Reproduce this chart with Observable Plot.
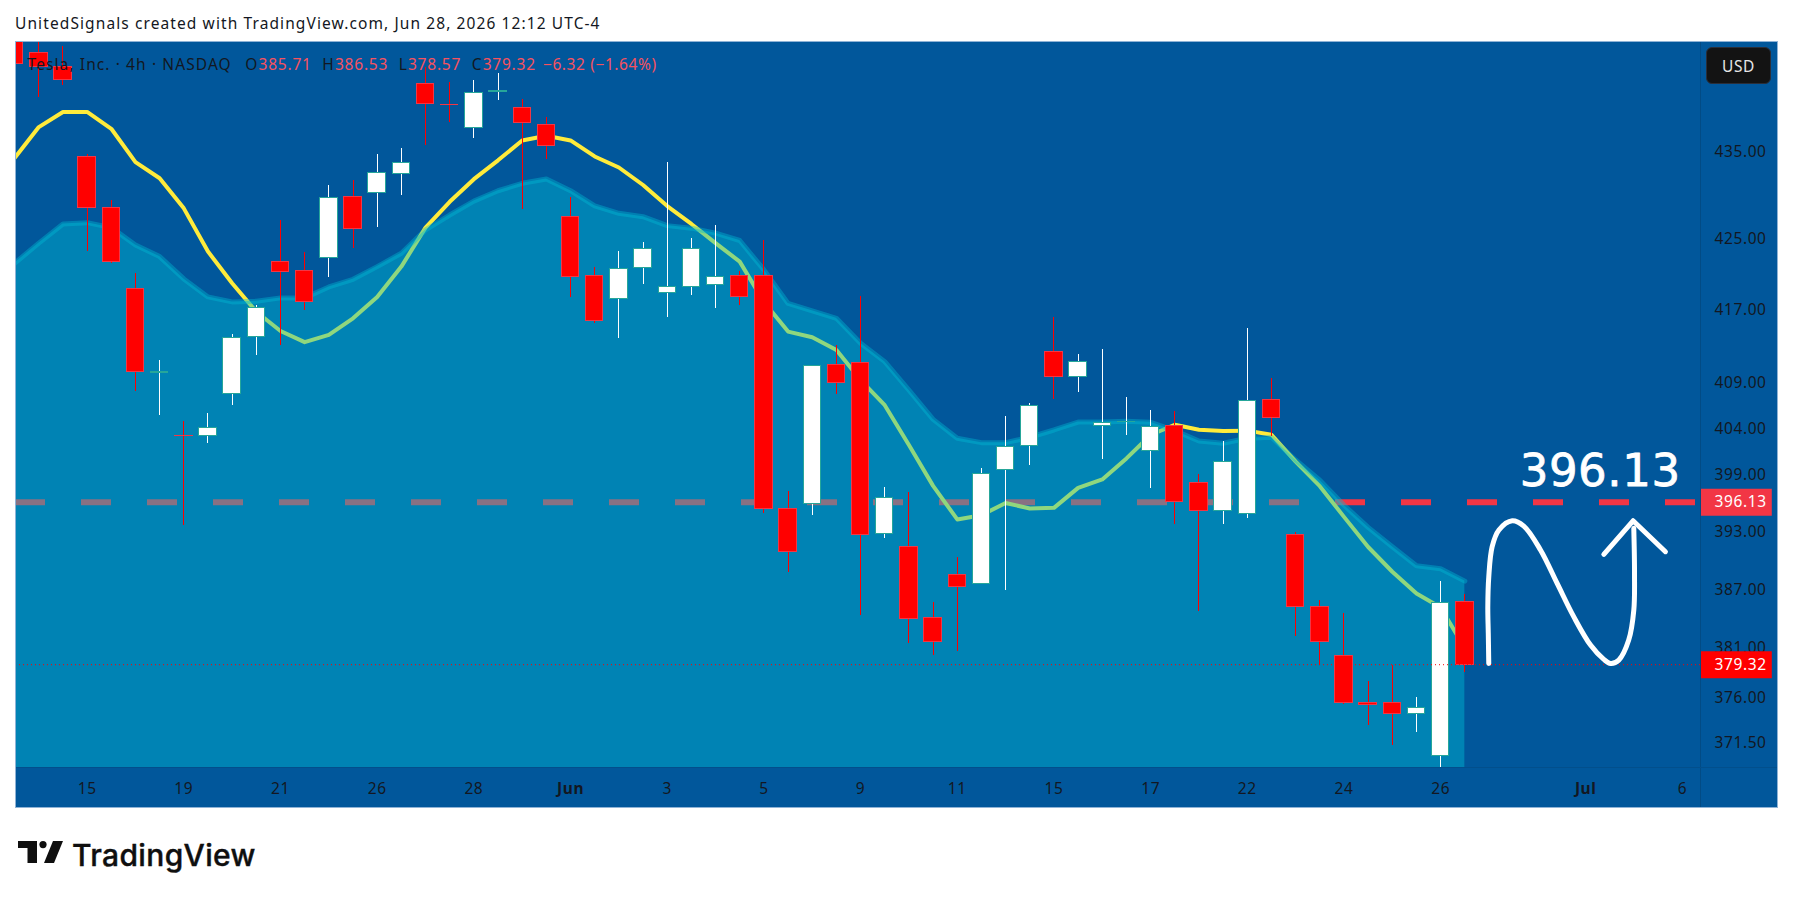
<!DOCTYPE html>
<html><head><meta charset="utf-8">
<script src="https://cdn.jsdelivr.net/npm/d3@7"></script>
<script src="https://cdn.jsdelivr.net/npm/@observablehq/plot@0.6"></script>
<style>
html,body{margin:0;padding:0;background:#fff;width:1793px;height:899px;overflow:hidden;font-family:"Noto Sans",sans-serif}
#title{height:41px;line-height:46px;padding-left:15px;font-size:15.5px;letter-spacing:1.1px;color:#131722;white-space:nowrap}
#wrap{position:relative;margin-left:15px;width:1763px;height:767px}
#wrap svg.plot{display:block}
#wrap .edge{position:absolute;pointer-events:none}
#legend{position:absolute;left:12.5px;top:13px;line-height:20px;font-size:15.5px;letter-spacing:1.1px;color:#131722;white-space:pre}
#legend b{font-weight:normal;color:#f7525f;letter-spacing:.8px}
#legend span{margin-left:10.5px}
#legend span:first-child{margin-left:13.5px}
#legend span:last-child{margin-left:7px}
#legend span:last-child b{letter-spacing:.6px}
#usd{position:absolute;left:1691px;top:6px;width:65px;height:37px;border-radius:6px;background:#131313;color:#e6e6e6;font-size:15.5px;letter-spacing:.6px;line-height:37px;text-align:center;border:1px solid #2a2e39;box-sizing:border-box}
#footer{position:relative;height:91px}
#logoText{position:absolute;left:72px;top:27px;font-family:Inter,sans-serif;font-weight:500;font-size:30px;line-height:40px;color:#0f0f0f;letter-spacing:.35px;-webkit-text-stroke:.4px #0f0f0f}
#logoIcon{position:absolute;left:18px;top:33px}
</style></head><body>
<div id="title">UnitedSignals created with TradingView.com, Jun 28, 2026 12:12 UTC-4</div>
<div id="wrap"></div>
<div id="footer">
<svg id="logoIcon" width="46" height="24" viewBox="0 0 46 24"><path fill="#0f0f0f" d="M0 0H19V22H9.5V7H0Z"/><circle cx="25" cy="3.6" r="3.6" fill="#0f0f0f"/><path fill="#0f0f0f" d="M45 0H35L26 22H36Z"/></svg>
<div id="logoText">TradingView</div>
</div>
<script>
const opens  = [449.4,446.62,444.90,434.38,428.47,419.30,410.08,403.25,403.21,407.70,413.98,422.36,421.41,422.81,429.79,430.19,432.40,442.91,440.50,437.75,442.04,440.07,438.10,427.45,420.77,418.28,421.68,418.85,419.53,419.75,420.77,420.77,395.47,396.00,410.89,411.11,392.76,391.40,384.03,388.47,387.53,399.53,402.10,412.33,409.57,404.28,404.69,401.57,404.25,398.13,395.26,394.85,407.15,392.65,385.25,380.16,375.49,375.49,374.40,370.14,385.71];
const highs  = [449.9,449.4,447.40,434.72,429.41,421.11,411.37,404.82,405.67,414.31,417.54,427.03,423.49,431.15,431.62,434.64,435.34,444.86,443.15,443.31,444.14,441.12,439.03,429.68,421.79,423.52,424.54,433.75,424.99,426.47,421.29,424.77,397.31,410.85,413.02,418.54,397.73,397.20,385.69,390.35,399.67,405.35,406.75,416.14,412.03,412.58,407.40,405.99,405.89,399.12,402.56,414.89,409.49,392.99,385.89,384.54,377.65,379.28,376.03,387.88,386.53];
const lows   = [445.3,441.31,442.75,423.56,422.20,407.99,405.46,393.73,402.35,406.53,411.92,413.02,416.99,420.61,423.94,426.27,429.91,435.73,438.45,436.50,441.04,428.36,434.14,418.39,415.52,413.79,419.90,416.11,418.66,417.21,417.54,394.95,388.74,394.77,407.73,384.29,392.27,381.45,380.23,380.70,387.53,386.86,399.99,407.18,407.95,400.63,403.21,397.63,393.83,384.77,393.83,394.46,403.13,382.16,379.25,375.32,373.17,371.26,372.55,369.00,378.57];
const closes = [445.3,444.90,443.39,428.47,422.36,410.12,410.12,403.19,404.10,413.94,417.24,421.29,417.90,429.68,426.09,432.52,433.68,440.54,440.42,441.84,442.10,438.33,435.61,420.73,415.81,421.57,423.83,419.53,423.90,420.73,418.46,395.47,390.94,410.85,408.91,392.71,396.63,383.99,381.65,387.28,399.10,402.06,406.50,409.57,411.29,404.63,404.73,404.21,396.20,395.16,400.45,406.99,405.11,385.25,381.59,375.45,375.25,374.40,374.96,385.66,379.32];
const maFast = [434.26,437.87,439.64,439.64,437.67,433.79,431.93,428.47,423.56,419.98,416.80,414.67,413.43,414.23,416.07,418.46,421.86,426.27,429.22,431.82,434.00,436.31,436.85,436.31,434.45,433.17,431.15,428.73,426.69,424.51,422.42,417.90,414.60,413.98,412.58,409.27,406.53,402.24,397.87,394.32,394.77,396.06,395.47,395.54,397.66,398.55,400.80,403.31,404.42,403.88,403.74,403.78,403.34,400.45,397.84,394.59,391.43,388.85,386.59,385.15,380.99];
const maSlow = [422.24,424.51,426.69,426.84,426.27,424.30,422.99,420.47,418.46,417.90,417.98,418.35,418.35,419.57,420.43,421.86,423.37,426.01,427.71,429.30,430.49,431.35,431.85,430.49,428.76,427.90,427.52,426.50,426.21,425.64,424.81,421.49,417.73,416.91,416.07,413.32,411.29,408.17,405.00,402.96,402.49,402.49,403.07,403.85,404.71,404.71,404.79,404.68,403.78,402.67,402.43,402.96,403.07,400.63,398.48,395.82,393.49,391.46,389.48,389.17,387.88];
const priceTicks = [435,425,417,409,404,399,393,387,381,376,371.5];
const dayBars   = [3,7,11,15,19,27,31,35,39,43,47,51,55,59,69];
const dayLabels = ["15","19","21","26","28","3","5","9","11","15","17","22","24","26","6"];
const monthBars   = [23,65];
const monthLabels = ["Jun","Jul"];
const targetPrice = 396.13, lastPrice = 379.32;
const sketchX = [60.99,60.97,60.95,60.99,61.13,61.41,61.96,62.44,63.13,63.82,64.51,65.20,65.75,66.03,66.37,66.78,66.99,67.02,66.99];
const sketchY = [379.45,382.50,385.21,388.31,391.46,393.21,394.18,393.62,391.12,387.64,384.19,381.31,379.86,379.45,379.79,381.82,384.87,388.68,393.39];
const headX = [65.75,66.96,68.30];
const headY = [390.67,394.18,390.94];
const legendParts = ["Tesla, Inc. · 4h · NASDAQ","O","385.71","H","386.53","L","378.57","C","379.32","−6.32 (−1.64%)"];

const bars = opens.map((o,i)=>({i,o,h:highs[i],l:lows[i],c:closes[i],up:closes[i]>=o,fast:maFast[i],slow:maSlow[i]}));
const sketch = sketchX.map((x,k)=>({x,y:sketchY[k]}));
const head = headX.map((x,k)=>({x,y:headY[k]}));
const BG="#01579b", DOMAIN_Y=[369.05,447.99], DOMAIN_X=[0.036,69.75];
const font='"Noto Sans",sans-serif';
const smallText={fontSize:15.5,fontFamily:font};

const chart = Plot.plot({
  width:1763,height:767,marginLeft:0,marginRight:78,marginTop:0,marginBottom:41,
  style:{background:BG,fontFamily:font,fontSize:"15.5px",letterSpacing:".6px",color:"#131722",overflow:"visible"},
  x:{domain:DOMAIN_X,range:[0,1685],axis:null},
  y:{type:"log",domain:DOMAIN_Y,axis:null},
  marks:[
    Plot.ruleY([targetPrice],{stroke:"#f23645",strokeWidth:6,strokeDasharray:"30,36",clip:true}),
    Plot.lineY(bars,{x:"i",y:"fast",stroke:"#ffeb3b",strokeWidth:4,clip:true}),
    Plot.areaY(bars,{x:"i",y1:DOMAIN_Y[0],y2:"slow",fill:"#00bcd4",fillOpacity:.44,clip:true}),
    Plot.lineY(bars,{x:"i",y:"slow",stroke:"#00bcd4",strokeWidth:5,strokeOpacity:.4,clip:true}),
    Plot.ruleX(bars,{x:"i",y1:"l",y2:"h",stroke:d=>d.up?"#ffffff":"#ff0000",strokeWidth:1,clip:true,shapeRendering:"crispEdges"}),
    Plot.rect(bars,{x1:d=>d.i-.36,x2:d=>d.i+.36,y1:"o",y2:"c",
      fill:d=>d.up?"#ffffff":"#ff0000",stroke:d=>d.up?"#26a69a":"#f23645",strokeWidth:1,clip:true,shapeRendering:"crispEdges"}),
    Plot.ruleY([lastPrice],{stroke:"#ff0000",strokeWidth:1,strokeDasharray:"1,3",clip:true}),
    Plot.line(sketch,{x:"x",y:"y",stroke:"#fff",strokeWidth:5,curve:"catmull-rom",strokeLinecap:"round",strokeLinejoin:"round"}),
    Plot.line(head,{x:"x",y:"y",stroke:"#fff",strokeWidth:5,strokeLinecap:"round",strokeLinejoin:"round"}),
    Plot.text([targetPrice],{x:65.6,y:399.35,text:d=>d.toFixed(2),fill:"#fff",stroke:"#fff",strokeWidth:.8,fontSize:45,fontFamily:'"DejaVu Sans",sans-serif',textAnchor:"middle"}),
    Plot.axisY({anchor:"right",ticks:priceTicks,tickSize:0,tickPadding:14,tickFormat:d=>d.toFixed(2),label:null,fill:"#131722",...smallText}),
    Plot.axisX({ticks:dayBars,tickFormat:d=>dayLabels[dayBars.indexOf(d)],tickSize:0,tickPadding:15,label:null,fill:"#131722",...smallText}),
    Plot.axisX({ticks:monthBars,tickFormat:d=>monthLabels[monthBars.indexOf(d)],tickSize:0,tickPadding:15,label:null,fill:"#131722",fontWeight:"bold",...smallText}),
    Plot.ruleY([targetPrice],{x1:69.79,x2:72.72,stroke:"#f23645",strokeWidth:27}),
    Plot.ruleY([lastPrice],{x1:69.79,x2:72.72,stroke:"#ff0000",strokeWidth:27}),
    Plot.text([targetPrice],{x:70.33,y:d=>d,text:d=>d.toFixed(2),fill:"#fff",textAnchor:"start",...smallText}),
    Plot.text([lastPrice],{x:70.33,y:d=>d,text:d=>d.toFixed(2),fill:"#fff",textAnchor:"start",...smallText})
  ]
});
chart.classList.add("plot");
const wrap=document.getElementById("wrap");
wrap.appendChild(chart);
function edge(css){const e=document.createElement("div");e.className="edge";e.style.cssText=css;wrap.appendChild(e);}
edge("left:1685px;top:0;width:1px;height:767px;background:#024b85");
edge("left:0;top:726px;width:1763px;height:1px;background:#024f8c");
edge("left:0;top:0;width:1763px;height:1px;background:#8fb3d6");
edge("left:0;top:766px;width:1763px;height:1px;background:#8fb3d6");
edge("left:0;top:0;width:1px;height:767px;background:#8fb3d6");
edge("left:1762px;top:0;width:1px;height:767px;background:#8fb3d6");
const lg=document.createElement("div");lg.id="legend";
const [name,oL,oV,hL,hV,lL,lV,cL,cV,chg]=legendParts;
lg.innerHTML=`${name}<span>${oL}<b>${oV}</b></span><span>${hL}<b>${hV}</b></span><span>${lL}<b>${lV}</b></span><span>${cL}<b>${cV}</b></span><span><b>${chg}</b></span>`;
wrap.appendChild(lg);
const usd=document.createElement("div");usd.id="usd";usd.textContent="USD";wrap.appendChild(usd);
</script>
</body></html>
